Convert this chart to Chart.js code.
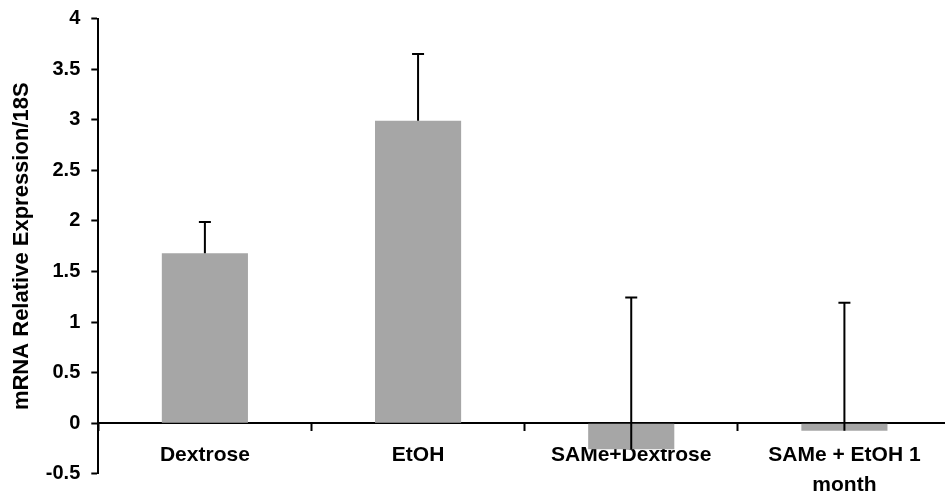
<!DOCTYPE html>
<html>
<head>
<meta charset="utf-8">
<script src="https://cdn.jsdelivr.net/npm/chart.js@4"></script>
<style>
  html, body { margin: 0; padding: 0; background: #fff; overflow: hidden; }
  #wrap { width: 952px; height: 499px; }
</style>
</head>
<body>
<div id="wrap"><canvas id="c" width="952" height="499"></canvas></div>
<script>
const categories = ['Dextrose', 'EtOH', 'SAMe+Dextrose', ['SAMe + EtOH 1', 'month']];
const expression = [1.68, 2.99, -0.257, -0.073];
const errorPlus = [0.31, 0.66, 1.50, 1.265];
const yTickLabels = ['-0.5', '0', '0.5', '1', '1.5', '2', '2.5', '3', '3.5', '4'];
const yTitle = 'mRNA Relative Expression/18S';

const FONT = "'Liberation Sans', Arial, Helvetica, sans-serif";

const errorBars = {
  id: 'errorBars',
  afterDatasetsDraw(chart) {
    const ctx = chart.ctx;
    const meta = chart.getDatasetMeta(0);
    const yScale = chart.scales.y;
    ctx.save();
    ctx.strokeStyle = '#000';
    ctx.lineWidth = 2;
    meta.data.forEach((bar, i) => {
      const yBase = yScale.getPixelForValue(expression[i]);
      const yTop = yScale.getPixelForValue(expression[i] + errorPlus[i]);
      ctx.beginPath();
      ctx.moveTo(bar.x, yBase);
      ctx.lineTo(bar.x, yTop);
      ctx.moveTo(bar.x - 6, yTop);
      ctx.lineTo(bar.x + 6, yTop);
      ctx.stroke();
    });
    ctx.restore();
  }
};

new Chart(document.getElementById('c'), {
  type: 'bar',
  data: {
    labels: categories,
    datasets: [{
      data: expression,
      backgroundColor: '#a6a6a6',
      borderWidth: 0,
      categoryPercentage: 1.0,
      barPercentage: 0.404
    }]
  },
  options: {
    responsive: false,
    animation: false,
    devicePixelRatio: 1,
    layout: { padding: { left: 0, top: 18.6, right: 1, bottom: 25.1 } },
    plugins: { legend: { display: false }, tooltip: { enabled: false } },
    scales: {
      x: {
        position: { y: 0 },
        offset: true,
        z: 1,
        grid: {
          display: true, drawOnChartArea: false, drawTicks: true,
          tickLength: 7, tickWidth: 2, tickColor: '#000', offset: true
        },
        border: { display: true, color: '#000', width: 2 },
        ticks: {
          color: '#000', autoSkip: false, maxRotation: 0, minRotation: 0,
          padding: 9.5,
          font: { family: FONT, size: 21, weight: 'bold', lineHeight: '30px' }
        },
        afterFit: (s) => { s.height = 0; }
      },
      y: {
        min: -0.5, max: 4,
        grid: {
          display: true, drawOnChartArea: false, drawTicks: true,
          tickLength: 7, tickWidth: 2, tickColor: '#000'
        },
        border: { display: true, color: '#000', width: 2 },
        ticks: {
          stepSize: 0.5, color: '#000', padding: 11,
          font: { family: FONT, size: 20, weight: 'bold' },
          callback: (v) => {
            const idx = Math.round((v + 0.5) / 0.5);
            return yTickLabels[idx];
          }
        },
        title: {
          display: true, text: yTitle, color: '#000',
          font: { family: FONT, size: 22, weight: 'bold' },
          padding: { top: 8.5, bottom: 0 }
        },
        afterFit: (s) => { s.width = 98.3; s.paddingTop = 0; s.paddingBottom = 0; }
      }
    }
  },
  plugins: [errorBars]
});
</script>
</body>
</html>
